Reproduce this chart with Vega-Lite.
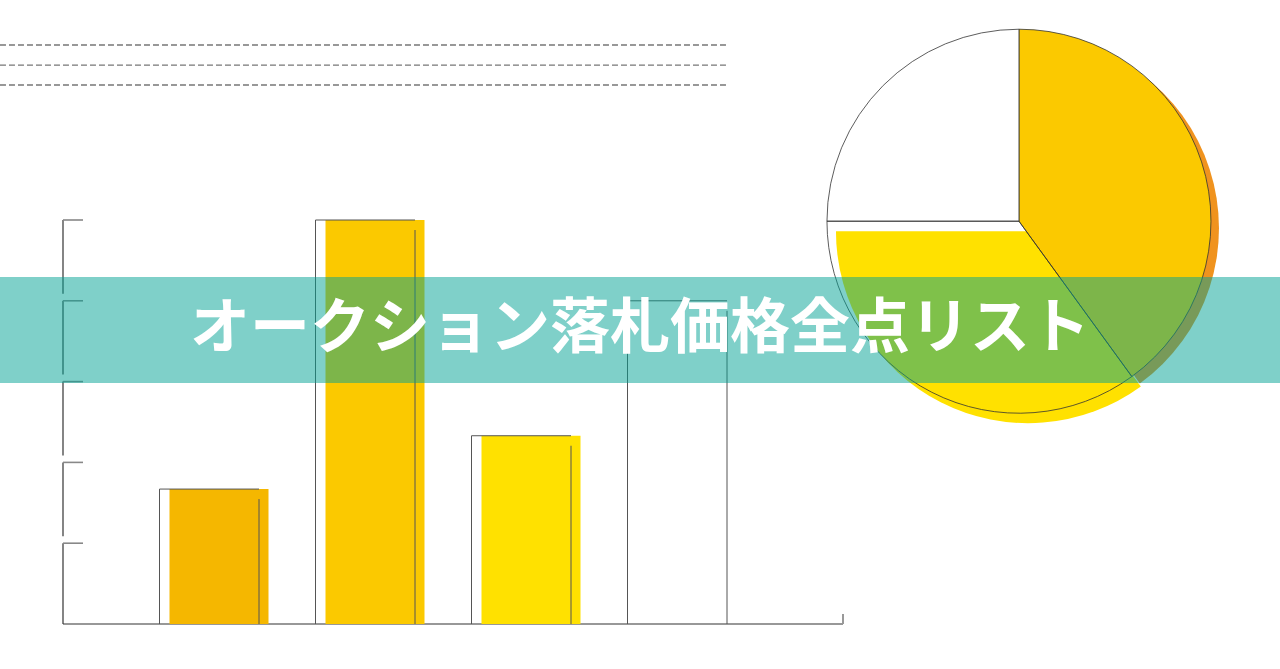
{
  "$schema": "https://vega.github.io/schema/vega-lite/v6.json",
  "width": 1280,
  "height": 669,
  "autosize": {"type": "none"},
  "padding": 0,
  "background": "#ffffff",
  "config": {"view": {"stroke": null}},
  "datasets": {
    "bars": [
      {"item": "A", "pos": 1, "price": 1.67},
      {"item": "B", "pos": 2, "price": 5.0},
      {"item": "C", "pos": 3, "price": 2.33},
      {"item": "D", "pos": 4, "price": 4.0}
    ],
    "ticks": [{"level": 1}, {"level": 2}, {"level": 3}, {"level": 4}, {"level": 5}],
    "segments": [
      {"top": 5, "bottom": 4},
      {"top": 4, "bottom": 3},
      {"top": 3, "bottom": 2},
      {"top": 2, "bottom": 1}
    ],
    "dashes": [{"row": 7.166}, {"row": 6.918}, {"row": 6.671}],
    "pie": [
      {"slice": "orange", "rank": 1, "share": 0.4},
      {"slice": "yellow", "rank": 2, "share": 0.35},
      {"slice": "white", "rank": 3, "share": 0.25}
    ]
  },
  "layer": [
    {
      "data": {"name": "dashes"},
      "mark": {"type": "rule", "color": "#777777", "strokeWidth": 1.3, "strokeDash": [6, 3]},
      "encoding": {
        "x": {"datum": -0.404, "type": "quantitative", "scale": {"domain": [0, 5], "range": [63, 843], "nice": false, "zero": false, "padding": 0}, "axis": null},
        "x2": {"datum": 4.263},
        "y": {"field": "row", "type": "quantitative", "scale": {"domain": [0, 5], "range": [624, 220], "nice": false, "zero": false, "padding": 0}, "axis": null}
      }
    },
    {
      "data": {"name": "segments"},
      "mark": {"type": "rule", "color": "#333333", "strokeWidth": 1.2, "y2Offset": -7},
      "encoding": {
        "x": {"datum": 0, "type": "quantitative"},
        "y": {"field": "top", "type": "quantitative"},
        "y2": {"field": "bottom"}
      }
    },
    {
      "data": {"values": [{}]},
      "mark": {"type": "rule", "color": "#333333", "strokeWidth": 1.2},
      "encoding": {
        "x": {"datum": 0, "type": "quantitative"},
        "y": {"datum": 1, "type": "quantitative"},
        "y2": {"datum": 0}
      }
    },
    {
      "data": {"values": [{}]},
      "mark": {"type": "rule", "color": "#333333", "strokeWidth": 1.2},
      "encoding": {
        "x": {"datum": 0, "type": "quantitative"},
        "x2": {"datum": 5},
        "y": {"datum": 0, "type": "quantitative"}
      }
    },
    {
      "data": {"values": [{}]},
      "mark": {"type": "rule", "color": "#999999", "strokeWidth": 2, "y2Offset": -10},
      "encoding": {
        "x": {"datum": 5, "type": "quantitative"},
        "y": {"datum": 0, "type": "quantitative"},
        "y2": {"datum": 0}
      }
    },
    {
      "data": {"name": "ticks"},
      "mark": {"type": "rule", "color": "#888888", "strokeWidth": 1.6, "x2Offset": 20},
      "encoding": {
        "x": {"datum": 0, "type": "quantitative"},
        "x2": {"datum": 0},
        "y": {"field": "level", "type": "quantitative"}
      }
    },
    {
      "data": {"name": "bars"},
      "transform": [{"filter": "datum.item != 'D'"}],
      "mark": {"type": "bar", "width": 99},
      "encoding": {
        "x": {"field": "pos", "type": "quantitative"},
        "y": {"field": "price", "type": "quantitative"},
        "y2": {"datum": 0},
        "color": {"field": "item", "type": "nominal", "scale": {"domain": ["A", "B", "C"], "range": ["#F5B700", "#FBC900", "#FFE100"]}, "legend": null}
      }
    },
    {
      "data": {"name": "bars"},
      "mark": {"type": "rule", "color": "#555555", "strokeWidth": 1, "xOffset": -59.5},
      "encoding": {
        "x": {"field": "pos", "type": "quantitative"},
        "y": {"field": "price", "type": "quantitative"},
        "y2": {"datum": 0}
      }
    },
    {
      "data": {"name": "bars"},
      "mark": {"type": "rule", "color": "#555555", "strokeWidth": 1, "xOffset": -59.5, "x2Offset": 40},
      "encoding": {
        "x": {"field": "pos", "type": "quantitative"},
        "x2": {"field": "pos"},
        "y": {"field": "price", "type": "quantitative"}
      }
    },
    {
      "data": {"name": "bars"},
      "mark": {"type": "rule", "color": "#555555", "strokeWidth": 1, "xOffset": 40, "yOffset": 10},
      "encoding": {
        "x": {"field": "pos", "type": "quantitative"},
        "y": {"field": "price", "type": "quantitative"},
        "y2": {"datum": 0}
      }
    },
    {
      "data": {"name": "pie"},
      "transform": [
        {"stack": "share", "groupby": [], "sort": [{"field": "rank", "order": "ascending"}], "as": ["s0", "s1"]},
        {"filter": "datum.slice == 'orange'"}
      ],
      "mark": {"type": "arc", "radius": 192, "fill": "#F0931E", "xOffset": 8, "yOffset": 7},
      "encoding": {
        "x": {"datum": 6.128, "type": "quantitative"},
        "y": {"datum": 4.985, "type": "quantitative"},
        "theta": {"field": "s0", "type": "quantitative", "stack": null, "scale": {"domain": [0, 1], "range": [0, 6.283185]}},
        "theta2": {"field": "s1"}
      }
    },
    {
      "data": {"name": "pie"},
      "transform": [
        {"stack": "share", "groupby": [], "sort": [{"field": "rank", "order": "ascending"}], "as": ["s0", "s1"]},
        {"filter": "datum.slice == 'yellow'"}
      ],
      "mark": {"type": "arc", "radius": 192, "fill": "#FFE100", "xOffset": 9, "yOffset": 10},
      "encoding": {
        "x": {"datum": 6.128, "type": "quantitative"},
        "y": {"datum": 4.985, "type": "quantitative"},
        "theta": {"field": "s0", "type": "quantitative", "stack": null, "scale": {"domain": [0, 1], "range": [0, 6.283185]}},
        "theta2": {"field": "s1"}
      }
    },
    {
      "data": {"name": "pie"},
      "transform": [
        {"stack": "share", "groupby": [], "sort": [{"field": "rank", "order": "ascending"}], "as": ["s0", "s1"]},
        {"filter": "datum.slice == 'orange'"}
      ],
      "mark": {"type": "arc", "radius": 192, "fill": "#FBC900", "stroke": "#333333", "strokeWidth": 0.8},
      "encoding": {
        "x": {"datum": 6.128, "type": "quantitative"},
        "y": {"datum": 4.985, "type": "quantitative"},
        "theta": {"field": "s0", "type": "quantitative", "stack": null, "scale": {"domain": [0, 1], "range": [0, 6.283185]}},
        "theta2": {"field": "s1"}
      }
    },
    {
      "data": {"name": "pie"},
      "transform": [
        {"stack": "share", "groupby": [], "sort": [{"field": "rank", "order": "ascending"}], "as": ["s0", "s1"]},
        {"filter": "datum.slice == 'white'"}
      ],
      "mark": {"type": "arc", "radius": 192, "fill": "#ffffff", "stroke": "#333333", "strokeWidth": 0.8},
      "encoding": {
        "x": {"datum": 6.128, "type": "quantitative"},
        "y": {"datum": 4.985, "type": "quantitative"},
        "theta": {"field": "s0", "type": "quantitative", "stack": null, "scale": {"domain": [0, 1], "range": [0, 6.283185]}},
        "theta2": {"field": "s1"}
      }
    },
    {
      "data": {"name": "pie"},
      "transform": [
        {"stack": "share", "groupby": [], "sort": [{"field": "rank", "order": "ascending"}], "as": ["s0", "s1"]},
        {"filter": "datum.slice == 'yellow'"}
      ],
      "mark": {"type": "arc", "radius": 192, "filled": false, "stroke": "#333333", "strokeWidth": 0.8},
      "encoding": {
        "x": {"datum": 6.128, "type": "quantitative"},
        "y": {"datum": 4.985, "type": "quantitative"},
        "theta": {"field": "s0", "type": "quantitative", "stack": null, "scale": {"domain": [0, 1], "range": [0, 6.283185]}},
        "theta2": {"field": "s1"}
      }
    },
    {
      "data": {"values": [{}]},
      "mark": {"type": "rect", "color": "#00A193", "opacity": 0.5},
      "encoding": {
        "x": {"value": 0},
        "x2": {"value": "width"},
        "y": {"datum": 4.295, "type": "quantitative"},
        "y2": {"datum": 2.983}
      }
    },
    {
      "data": {"values": [{}]},
      "mark": {"type": "text", "font": "Noto Sans CJK JP", "fontSize": 60, "fontWeight": "bold", "color": "#ffffff", "align": "center", "baseline": "middle"},
      "encoding": {
        "x": {"datum": 3.699, "type": "quantitative"},
        "y": {"datum": 3.64, "type": "quantitative"},
        "text": {"value": "オークション落札価格全点リスト"}
      }
    }
  ]
}
